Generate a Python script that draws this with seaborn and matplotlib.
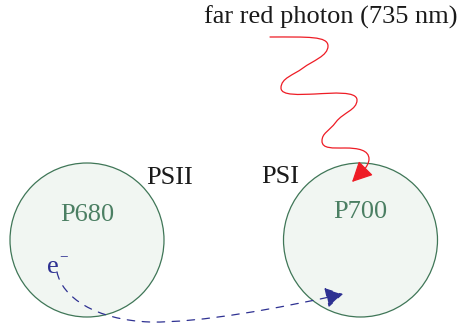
import matplotlib
matplotlib.use("Agg")
import matplotlib.pyplot as plt
import seaborn as sns
from matplotlib.patches import Circle, FancyArrowPatch
from matplotlib.path import Path

# photosystems: (label, complex name, centre x, centre y, radius) in pixel units
systems = ["P680", "P700"]
system_names = ["PSII", "PSI"]
centre_x = [87, 360.5]
centre_y = [240, 240]
radius = [77, 77]
name_x = [170, 280]
name_y = [178, 177]
label_y = [215, 212]

photon_label = "far red photon (735 nm)"
electron_label = "e"

# photon path: start point then cubic bezier segments (c1, c2, end)
photon_start = (270, 37)
photon_segments = [
    ((308, 37), (328, 36), (328, 46)),
    ((328, 56), (312.6, 60.8), (303, 68)),
    ((293.4, 75.2), (281, 78), (281, 88)),
    ((281, 96), (300, 94.5), (315, 94)),
    ((333, 93), (357, 91), (357, 100)),
    ((357, 110), (343.2, 112.4), (336, 122)),
    ((328.8, 131.6), (322, 133), (322, 141)),
    ((322, 149), (333, 148), (345, 148)),
    ((358, 148), (369, 150), (369, 159)),
    ((369, 167), (359, 175), (352, 182)),
]

# electron path
electron_start = (57, 272)
electron_segments = [
    ((62, 297), (95, 320), (150, 322)),
    ((200, 323), (280, 308), (343, 294)),
]

GREEN_EDGE = "#3f7657"
GREEN_FILL = "#f1f6f2"
GREEN_TEXT = "#4b7f63"
BLUE = "#2e3192"
RED = "#ee1c25"


def bezier_path(start, segments):
    verts = [start]
    codes = [Path.MOVETO]
    for c1, c2, end in segments:
        verts += [c1, c2, end]
        codes += [Path.CURVE4] * 3
    return Path(verts, codes)


sns.set_theme(style="white")
plt.rcParams["font.family"] = ["Liberation Serif", "DejaVu Serif"]

fig = plt.figure(figsize=(4.63, 3.24), dpi=100)
ax = fig.add_axes([0, 0, 1, 1])
ax.set_xlim(0, 463)
ax.set_ylim(324, 0)
ax.set_axis_off()

for i, lab in enumerate(systems):
    ax.add_patch(Circle((centre_x[i], centre_y[i]), radius[i], facecolor=GREEN_FILL,
                        edgecolor=GREEN_EDGE, linewidth=0.9))
    ax.text(centre_x[i], label_y[i], lab, color=GREEN_TEXT, fontsize=19,
            ha="center", va="center")
    ax.text(name_x[i], name_y[i], system_names[i], color="#1a1a1a", fontsize=19,
            ha="center", va="center")

ax.text(331, 17, photon_label, color="#1a1a1a", fontsize=19, ha="center", va="center")

photon = FancyArrowPatch(path=bezier_path(photon_start, photon_segments),
                         arrowstyle="-|>,head_length=0.7,head_width=0.35",
                         mutation_scale=18, color=RED, linewidth=0.9)
ax.add_patch(photon)

ax.text(53, 267, electron_label, color=BLUE, fontsize=19, ha="center", va="center")
ax.text(64, 257, "\u2212", color=BLUE, fontsize=11, ha="center", va="center")

electron = FancyArrowPatch(path=bezier_path(electron_start, electron_segments),
                           arrowstyle="-|>,head_length=0.6,head_width=0.35",
                           mutation_scale=18, color=BLUE, linewidth=0.9,
                           linestyle=(0, (6, 6)))
ax.add_patch(electron)

fig.savefig("out.png", dpi=100)
